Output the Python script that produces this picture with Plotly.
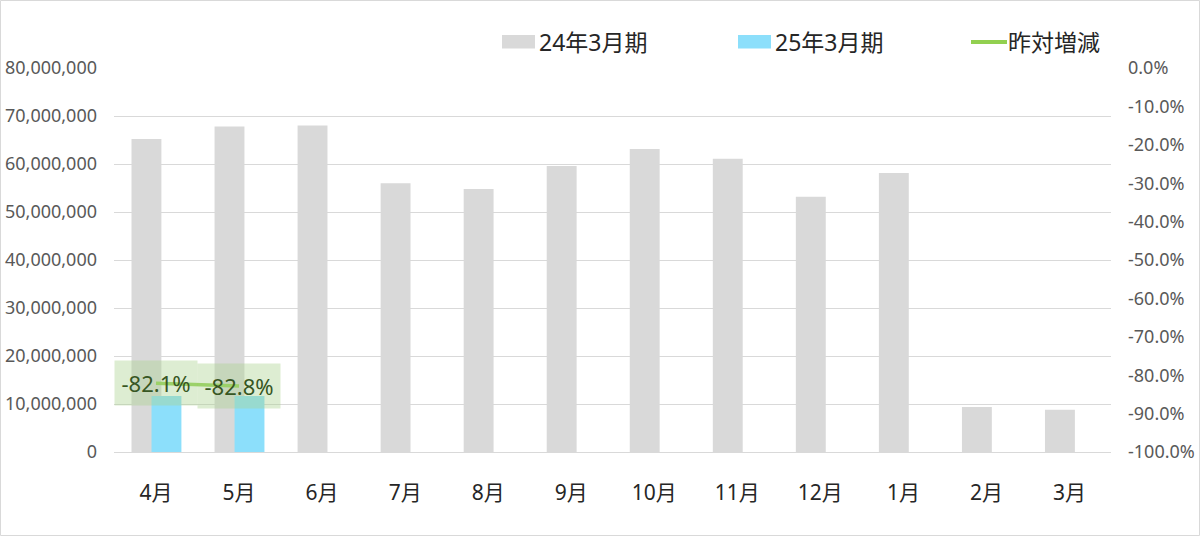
import plotly.graph_objects as go

months = ["4月", "5月", "6月", "7月", "8月", "9月", "10月", "11月", "12月", "1月", "2月", "3月"]
sales_prev = [65200000, 67800000, 68000000, 56000000, 54800000, 59600000,
              63100000, 61100000, 53200000, 58100000, 9400000, 8800000]
sales_curr = [11670000, 11670000, None, None, None, None,
              None, None, None, None, None, None]
yoy = [-0.821, -0.828, None, None, None, None,
       None, None, None, None, None, None]

legend_names = ["24年3月期", "25年3月期", "昨対増減"]
pct_ticks = [0.0, -0.1, -0.2, -0.3, -0.4, -0.5, -0.6, -0.7, -0.8, -0.9, -1.0]

GRAY = "#d9d9d9"
BLUE = "#8cdffb"
GREEN = "#92d050"
FONT = "Noto Sans, Noto Sans CJK JP, sans-serif"

# plot area in pixels
W, H = 1200, 536
L, R, T, B = 114, 89, 68, 84
PW, PH = W - L - R, H - T - B


def px(x):
    return (x - L) / PW


def py(y):
    return (H - B - y) / PH


fig = go.Figure()

fig.add_trace(go.Bar(
    x=months, y=sales_prev, name=legend_names[0],
    marker=dict(color=GRAY, line=dict(width=0)),
    width=0.36, offset=-0.295, showlegend=False))

fig.add_trace(go.Bar(
    x=months, y=sales_curr, name=legend_names[1],
    marker=dict(color=BLUE, line=dict(width=0)),
    width=0.36, offset=-0.054, showlegend=False))

fig.add_trace(go.Scatter(
    x=months, y=yoy, name=legend_names[2], yaxis="y2",
    mode="lines", line=dict(color=GREEN, width=3.5),
    connectgaps=False, showlegend=False))

# data labels for the yoy line
annotations = []
for m, v in zip(months, yoy):
    if v is None:
        continue
    annotations.append(dict(
        x=m, y=v, xref="x", yref="y2", text=f"{v:.1%}",
        showarrow=False, xanchor="center", yanchor="middle",
        font=dict(family=FONT, size=22, color="#375623"),
        bgcolor="rgba(169,209,142,0.4)", width=70, height=32, borderpad=6))

# hand-built legend
shapes = []
legend_items = [
    (legend_names[0], GRAY, "box", 502),
    (legend_names[1], BLUE, "box", 738),
    (legend_names[2], GREEN, "line", 971),
]
for name, color, kind, x0 in legend_items:
    if kind == "box":
        shapes.append(dict(type="rect", xref="paper", yref="paper",
                           x0=px(x0), x1=px(x0 + 33), y0=py(48.5), y1=py(35),
                           fillcolor=color, line=dict(width=0)))
    else:
        shapes.append(dict(type="line", xref="paper", yref="paper",
                           x0=px(x0), x1=px(x0 + 36), y0=py(42), y1=py(42),
                           line=dict(color=color, width=4)))
    annotations.append(dict(
        x=px(x0 + 35), y=py(42), xref="paper", yref="paper", text=name,
        showarrow=False, xanchor="left", yanchor="middle",
        font=dict(family=FONT, size=23, color="#262626")))

# outer frame
shapes.append(dict(type="rect", xref="paper", yref="paper",
                   x0=px(0.5), x1=px(W - 0.5), y0=py(H - 0.5), y1=py(0.5),
                   line=dict(color="#d9d9d9", width=1), layer="below"))

fig.update_layout(
    width=W, height=H,
    margin=dict(l=L, r=R, t=T, b=B, autoexpand=False),
    paper_bgcolor="white", plot_bgcolor="white",
    barmode="overlay",
    font=dict(family=FONT),
    xaxis=dict(
        type="category", showgrid=False, showline=True, automargin=False,
        linecolor=GRAY, linewidth=1, ticks="",
        tickfont=dict(size=21, color="#262626"),
        ticklabelstandoff=22),
    yaxis=dict(
        range=[0, 80000000], dtick=10000000, tickformat=",",
        showgrid=True, gridcolor=GRAY, gridwidth=1, automargin=False,
        zeroline=False, showline=False,
        tickfont=dict(size=18, color="#595959"),
        ticklabelstandoff=16),
    yaxis2=dict(
        range=[-1, 0], automargin=False,
        tickvals=pct_ticks, ticktext=[f"{v:.1%}" for v in pct_ticks],
        overlaying="y", side="right", showgrid=False, zeroline=False,
        showline=False,
        tickfont=dict(size=18, color="#595959"),
        ticklabelstandoff=16),
    shapes=shapes,
    annotations=annotations,
)

# drop the default page margin so the figure sits at the window corner
fig.write_html(
    "out.html",
    config={"displayModeBar": False},
    post_script="document.body.style.margin='0';document.body.style.overflow='hidden';")
